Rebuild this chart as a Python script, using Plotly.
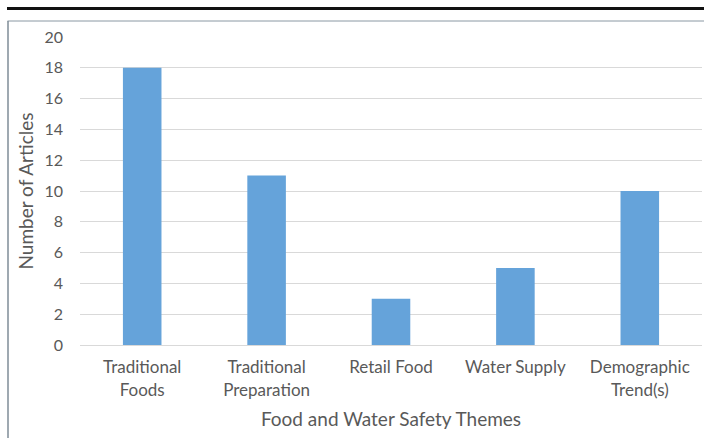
import plotly.graph_objects as go

categories = ["Traditional<br>Foods", "Traditional<br>Preparation", "Retail Food", "Water Supply", "Demographic<br>Trend(s)"]
articles = [18, 11, 3, 5, 10]
y_ticks = [0, 2, 4, 6, 8, 10, 12, 14, 16, 18, 20]

W, H = 704, 438
L, R, T, B = 80, 2, 37, 93
pw, ph = W - L - R, H - T - B

def px(x):
    return (x - L) / pw

def py(y):
    return (H - B - y) / ph

FONT = "Lato"
TXT = "#595959"

fig = go.Figure(go.Bar(
    x=categories, y=articles,
    marker=dict(color="#65a3da", line=dict(width=0)),
    width=0.31,
))

fig.update_layout(
    width=W, height=H,
    margin=dict(l=L, r=R, t=T, b=B, pad=0),
    paper_bgcolor="white", plot_bgcolor="white",
    showlegend=False,
    font=dict(family=FONT, size=16, color=TXT),
    xaxis=dict(
        showgrid=False, showline=True, linecolor="#d9d9d9", linewidth=1,
        ticks="", ticklabelstandoff=7, tickfont=dict(size=17, color=TXT),
        title=dict(text="Food and Water Safety Themes", font=dict(size=19, color=TXT), standoff=14),
        range=[-0.5, 4.5],
    ),
    yaxis=dict(
        range=[0, 20], tickvals=y_ticks, showgrid=True, gridcolor="#d9d9d9", gridwidth=1,
        zeroline=False, showline=False, ticks="", ticklabelstandoff=16,
        tickfont=dict(size=16, color=TXT),
        title=dict(text="Number of Articles", font=dict(size=19, color=TXT), standoff=5),
    ),
    shapes=[
        dict(type="line", xref="paper", yref="paper", x0=px(7), x1=px(704), y0=py(8.5), y1=py(8.5),
             line=dict(color="#111111", width=3)),
        dict(type="line", xref="paper", yref="paper", x0=px(7.5), x1=px(704), y0=py(21), y1=py(21),
             line=dict(color="#8a98a3", width=1)),
        dict(type="line", xref="paper", yref="paper", x0=px(8), x1=px(8), y0=py(21), y1=py(438),
             line=dict(color="#7f8c97", width=1.5)),
    ],
)

fig.write_html("out.html", config={"displayModeBar": False},
               post_script="document.body.style.margin='0';")
